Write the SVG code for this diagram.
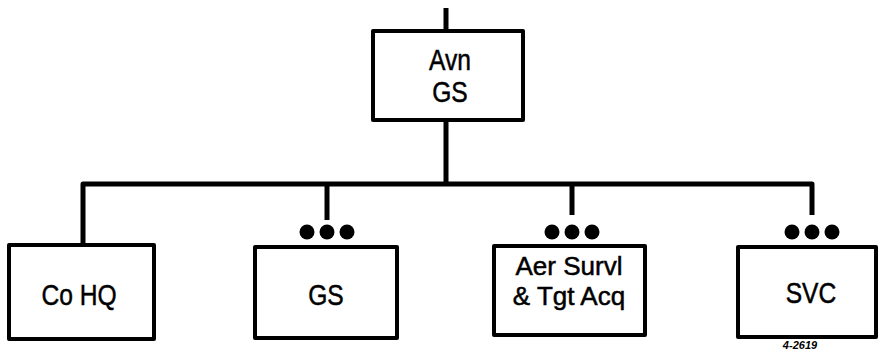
<svg xmlns="http://www.w3.org/2000/svg" width="879" height="356" viewBox="0 0 879 356">
<style>
.box{fill:#fff;stroke:#000;stroke-width:4;stroke-linejoin:round}
.ln{fill:none;stroke:#000;stroke-width:5;stroke-linejoin:round}
.t{font-family:"Liberation Sans",Arial,sans-serif;font-size:30px;fill:#000;stroke:#000;stroke-width:0.5;text-anchor:middle}
.t2{font-size:26px}
.dot{fill:#000}
</style>
<rect width="879" height="356" fill="#fff"/>
<g id="connectors">
<path class="ln" d="M446 8 V31"/>
<path class="ln" d="M446 120 V184"/>
<path class="ln" d="M83 245 V184 H812 V215"/>
<path class="ln" d="M327 184 V220"/>
<path class="ln" d="M572 184 V215"/>
</g>
<g id="avn-gs">
<rect class="box" x="373" y="31" width="150" height="89"/>
<g transform="translate(450,0) scale(0.82,1)"><text class="t" x="0" y="70">Avn</text><text class="t" x="0" y="102">GS</text></g>
</g>
<g id="co-hq">
<rect class="box" x="9" y="245" width="145" height="94"/>
<g transform="translate(79,0) scale(0.82,1)"><text class="t" x="0" y="305">Co HQ</text></g>
</g>
<g id="gs">
<g class="dot"><circle cx="307" cy="232" r="7.5"/><circle cx="327" cy="232" r="7.5"/><circle cx="347" cy="232" r="7.5"/></g>
<rect class="box" x="255" y="247" width="142" height="91"/>
<g transform="translate(326,0) scale(0.82,1)"><text class="t" x="0" y="305">GS</text></g>
</g>
<g id="aer-survl">
<g class="dot"><circle cx="552" cy="232" r="7.5"/><circle cx="572" cy="232" r="7.5"/><circle cx="592" cy="232" r="7.5"/></g>
<rect class="box" x="494" y="246" width="151" height="89"/>
<text class="t t2" x="569" y="275">Aer Survl</text>
<text class="t t2" x="569" y="305">&amp; Tgt Acq</text>
</g>
<g id="svc">
<g class="dot"><circle cx="792" cy="232" r="7.5"/><circle cx="812" cy="232" r="7.5"/><circle cx="832" cy="232" r="7.5"/></g>
<rect class="box" x="738" y="247" width="138" height="90"/>
<g transform="translate(811,0) scale(0.82,1)"><text class="t" x="0" y="303">SVC</text></g>
</g>
<text x="800" y="349" font-family="Liberation Sans,Arial,sans-serif" font-size="11" font-style="italic" font-weight="bold" text-anchor="middle">4-2619</text>
</svg>
